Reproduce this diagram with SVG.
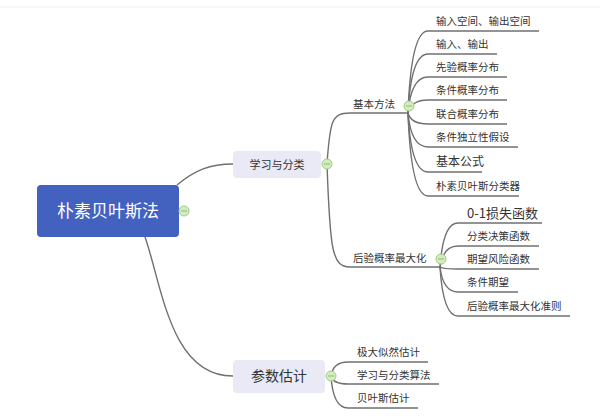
<svg xmlns="http://www.w3.org/2000/svg" width="600" height="416" viewBox="0 0 600 416">
<style>
text{font-family:"Noto Sans CJK SC","Liberation Sans",sans-serif;fill:#333;font-size:10.5px}
.c{fill:none;stroke:#707070;stroke-width:1.4}
.t{text-anchor:middle}
.col circle{fill:#d5ebc2;stroke:#9fcd80;stroke-width:1}
.col line{stroke:#8dbb70;stroke-width:1}
</style>
<rect x="0" y="0" width="600" height="416" fill="#fff"/>
<line x1="0" y1="7" x2="600" y2="7" stroke="#f0f0f0" stroke-width="1"/>
<g id="connectors">
<path class="c" d="M177,185 C195,170 210,164 233,164"/>
<path class="c" d="M145,237 C162,285 170,376 233,376"/>
<path class="c" d="M327,164 C330,120 332,113 350,113 H408"/>
<path class="c" d="M327,164 C330,250 332,267 350,267 H440"/>
<path class="c" d="M408,113 Q411,31 428,31 H539"/>
<path class="c" d="M408,113 Q411,54 428,54 H497"/>
<path class="c" d="M408,113 Q411,77 428,77 H507"/>
<path class="c" d="M408,113 Q411,100 428,100 H507"/>
<path class="c" d="M408,113 Q411,124 428,124 H507"/>
<path class="c" d="M408,113 Q411,147 428,147 H518"/>
<path class="c" d="M408,113 Q411,172 428,172 H482"/>
<path class="c" d="M408,113 Q411,196 428,196 H519"/>
<path class="c" d="M440,267 Q443,223 458,223 H542"/>
<path class="c" d="M440,267 Q443,246 458,246 H539"/>
<path class="c" d="M440,267 Q443,269 458,269 H539"/>
<path class="c" d="M440,267 Q443,292 458,292 H518"/>
<path class="c" d="M440,267 Q443,316 458,316 H570"/>
<path class="c" d="M331,376 Q333,362 348,362 H428"/>
<path class="c" d="M331,376 Q333,384 348,384 H439"/>
<path class="c" d="M331,376 Q333,408 348,408 H418"/>
</g>
<g id="root">
<rect x="37" y="185" width="142" height="52" rx="4" fill="#4361bf"/>
<text class="t" x="108" y="217" style="fill:#fff;font-size:17px">朴素贝叶斯法</text>
<g class="col"><circle cx="184" cy="211" r="5"/><line x1="181" y1="211" x2="187" y2="211"/></g>
</g>
<g id="learn">
<rect x="233" y="151" width="88" height="27" rx="4" fill="#e9eaf5"/>
<text class="t" x="277" y="169" style="font-size:11px">学习与分类</text>
<g class="col"><circle cx="327" cy="164" r="5"/><line x1="324" y1="164" x2="330" y2="164"/></g>
</g>
<g id="param">
<rect x="233" y="360" width="92" height="33" rx="4" fill="#e9eaf5"/>
<text class="t" x="279" y="381" style="font-size:14px">参数估计</text>
<g class="col"><circle cx="331" cy="376" r="5"/><line x1="328" y1="376" x2="334" y2="376"/></g>
</g>
<g id="basic">
<text x="353" y="108">基本方法</text>
<g class="col"><circle cx="409" cy="106" r="5"/><line x1="406" y1="106" x2="412" y2="106"/></g>
</g>
<g id="posterior">
<text x="353" y="262">后验概率最大化</text>
<g class="col"><circle cx="441" cy="259" r="5"/><line x1="438" y1="259" x2="444" y2="259"/></g>
</g>
<g id="b1"><text x="436" y="25">输入空间、输出空间</text></g>
<g id="b2"><text x="436" y="48">输入、输出</text></g>
<g id="b3"><text x="436" y="71">先验概率分布</text></g>
<g id="b4"><text x="436" y="94">条件概率分布</text></g>
<g id="b5"><text x="436" y="118">联合概率分布</text></g>
<g id="b6"><text x="436" y="141">条件独立性假设</text></g>
<g id="b7"><text x="436" y="166" style="font-size:12px">基本公式</text></g>
<g id="b8"><text x="436" y="190">朴素贝叶斯分类器</text></g>
<g id="p1"><text x="467" y="218" style="font-size:13px">0-1损失函数</text></g>
<g id="p2"><text x="467" y="240">分类决策函数</text></g>
<g id="p3"><text x="467" y="263">期望风险函数</text></g>
<g id="p4"><text x="467" y="286">条件期望</text></g>
<g id="p5"><text x="467" y="310">后验概率最大化准则</text></g>
<g id="e1"><text x="357" y="356">极大似然估计</text></g>
<g id="e2"><text x="357" y="379">学习与分类算法</text></g>
<g id="e3"><text x="357" y="402">贝叶斯估计</text></g>
</svg>
